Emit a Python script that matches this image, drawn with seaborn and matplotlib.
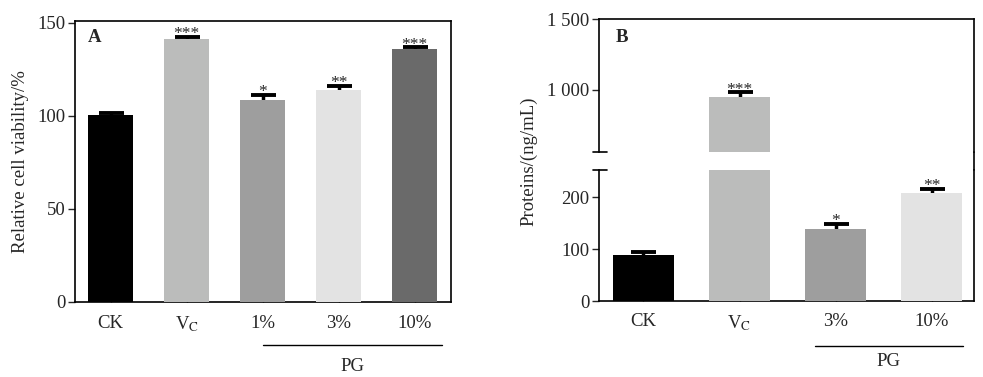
import pandas as pd
import seaborn as sns
import matplotlib.pyplot as plt
import numpy as np
from matplotlib.lines import Line2D

sns.set_style("white")
plt.rcParams['font.family'] = ['Liberation Serif', 'DejaVu Serif']
plt.rcParams['mathtext.fontset'] = 'stix'

# A) viabilidad celular
grupos_a = ["CK", "VC", "1%", "3%", "10%"]
viab = [100.5, 141.4, 108.6, 114.0, 136.0]
err_a = [1.0, 1.2, 2.9, 2.3, 1.0]
sig_a = ["", "***", "*", "**", "***"]
etiquetas_a = ["CK", "V$_{\\mathrm{C}}$", "1%", "3%", "10%"]
colores_a = ["#000000", "#bbbcbb", "#9e9e9e", "#e3e3e3", "#6a6a6a"]

# B) proteinas
grupos_b = ["CK", "VC", "3%", "10%"]
prot = [89, 952, 140, 209]
err_b = [5, 32, 9, 8]
sig_b = ["", "***", "*", "**"]
etiquetas_b = ["CK", "V$_{\\mathrm{C}}$", "3%", "10%"]
colores_b = ["#000000", "#bbbcbb", "#9e9e9e", "#e3e3e3"]

W, H = 983, 377
FS = 13.5
CORTE = 250  # valores por encima se dibujan en el tramo superior
fig = plt.figure(figsize=(W / 100, H / 100), dpi=100)

def px_axes(x0, y0, x1, y1):
    return fig.add_axes([x0 / W, 1 - y1 / H, (x1 - x0) / W, (y1 - y0) / H])

def barras(ax, grupos, valores, errores, colores, ancho):
    df = pd.DataFrame({"g": grupos, "v": valores})
    sns.barplot(data=df, x="g", y="v", hue="g", palette=colores, saturation=1,
                width=ancho, legend=False, ax=ax, zorder=3, linewidth=0)
    ax.errorbar(np.arange(len(grupos)), valores, yerr=errores, fmt="none",
                ecolor="black", elinewidth=2.5, capsize=9, capthick=2.8, zorder=2)
    ax.set_xlabel("")
    ax.set_ylabel("")

def estrellas(ax, valores, errores, sig):
    for i, (v, e, s) in enumerate(zip(valores, errores, sig)):
        if s:
            ax.annotate(s, (i, v + e), xytext=(0, -1.5), textcoords="offset pixels",
                        ha="center", va="baseline", fontsize=12.5,
                        annotation_clip=False)

def estilo(ax):
    for sp in ax.spines.values():
        sp.set_color("black")
        sp.set_linewidth(1.2)
    ax.tick_params(axis="y", direction="out", length=5, width=1, labelsize=FS,
                   left=True, pad=2)
    ax.tick_params(axis="x", direction="in", length=4.5, width=1, labelsize=FS,
                   bottom=True, pad=9)

# ---------------- panel A
ax1 = px_axes(75, 21, 451, 302)
barras(ax1, grupos_a, viab, err_a, colores_a, 0.6)
estrellas(ax1, viab, err_a, sig_a)
ax1.set_xlim(-0.47, 4.48)
ax1.set_ylim(0, 151)
ax1.set_yticks([0, 50, 100, 150])
ax1.set_xticks(range(len(grupos_a)))
ax1.set_xticklabels(etiquetas_a)
estilo(ax1)
ax1.set_ylabel("Relative cell viability/%", fontsize=FS, labelpad=6)
ax1.text(0.035, 0.97, "A", transform=ax1.transAxes, fontsize=FS,
         fontweight="bold", va="top")
ax1.plot([2.0, 4.36], [-23, -23], color="black", lw=1, clip_on=False)
ax1.text(3.18, -30, "PG", ha="center", va="top", fontsize=FS)

# ---------------- panel B (eje roto)
ax_top = px_axes(599.3, 19.3, 974, 152)
ax_bot = px_axes(599.3, 170, 974, 301)
for ax in (ax_top, ax_bot):
    barras(ax, grupos_b, prot, err_b, colores_b, 0.635)
    ax.set_xlim(-0.46, 3.44)
    estilo(ax)
estrellas(ax_top, prot, err_b, [s if v > CORTE else "" for v, s in zip(prot, sig_b)])
estrellas(ax_bot, prot, err_b, [s if v < CORTE else "" for v, s in zip(prot, sig_b)])

ax_top.set_ylim(560, 1500)
ax_top.set_yticks([1000, 1500])
ax_top.set_yticklabels(["1 000", "1 500"])
ax_top.spines["bottom"].set_visible(False)
ax_top.tick_params(axis="x", bottom=False, labelbottom=False)

ax_bot.set_ylim(0, 253)
ax_bot.set_yticks([0, 100, 200])
ax_bot.spines["top"].set_visible(False)
ax_bot.set_xticks(range(len(grupos_b)))
ax_bot.set_xticklabels(etiquetas_b)

# marcas de corte y continuidad del borde derecho
fig.add_artist(Line2D([592.7 / W, 606.7 / W], [1 - 152 / H, 1 - 152 / H], color="black", lw=1.2))
fig.add_artist(Line2D([592.7 / W, 606.7 / W], [1 - 170 / H, 1 - 170 / H], color="black", lw=1.2))
fig.add_artist(Line2D([974 / W, 974 / W], [1 - 152 / H, 1 - 170 / H], color="black", lw=1.2))

fig.text(529 / W, 1 - 161 / H, "Proteins/(ng/mL)", rotation=90, ha="center",
         va="center", fontsize=FS)
ax_top.text(0.045, 0.93, "B", transform=ax_top.transAxes, fontsize=FS,
            fontweight="bold", va="top")
ax_bot.plot([1.79, 3.33], [-86, -86], color="black", lw=1, clip_on=False)
ax_bot.text(2.55, -100, "PG", ha="center", va="top", fontsize=FS)

fig.savefig("out.png", dpi=100)
